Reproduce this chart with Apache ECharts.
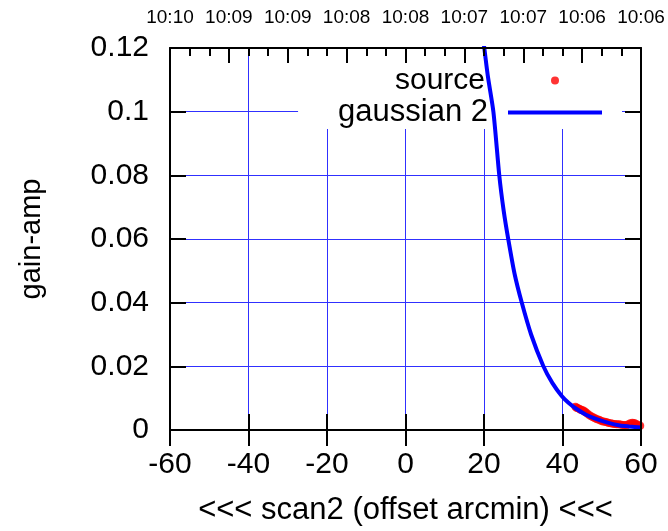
<!DOCTYPE html>
<html>
<head>
<meta charset="utf-8">
<script src="https://cdn.jsdelivr.net/npm/echarts@6/dist/echarts.min.js"></script>
<style>html,body{margin:0;padding:0;background:#fff}#c{width:668px;height:531px}</style>
</head>
<body>
<div id="c"></div>
<script>
// ---- data ----
const topTimeLabels = ['10:10','10:09','10:09','10:08','10:08','10:07','10:07','10:06','10:06'];
const sourceX = [43.3,43.6,43.9,44.3,44.6,44.9,45.3,45.6,45.9,46.3,46.8,47.3,47.8,48.3,48.8,49.3,49.8,50.3,50.8,51.3,51.8,52.3,52.8,53.3,53.8,54.3,54.8,55.3,55.8,56.3,56.8,57.3,57.8,58.3,58.8,59.3,59.8];
const sourceY = [0.0073,0.0070,0.0068,0.0067,0.0064,0.0063,0.0061,0.0058,0.0056,0.0052,0.0047,0.0043,0.0040,0.0037,0.0034,0.0032,0.0029,0.0027,0.0026,0.0024,0.0022,0.0021,0.0020,0.0019,0.0018,0.0018,0.0017,0.0016,0.0016,0.0015,0.0018,0.0021,0.0023,0.0022,0.0019,0.0016,0.0013];
const gaussX = [19.0,19.8,21.0,22.4,23.9,25.0,26.2,27.8,29.6,32.0,35.1,37.4,39.8,41.6,43.6,46.0,48.7,51.5,54.6,57.0,60.0];
const gaussY = [0.128,0.1225,0.111,0.0999,0.0799,0.069,0.0598,0.049,0.0401,0.030,0.0201,0.0148,0.0107,0.0085,0.0066,0.0048,0.0034,0.0023,0.0014,0.0011,0.0008];

const FONT = 'Liberation Sans';
const BIG = 29;
const black = '#000';
const gridBlue = '#3030ff';

const sourceData = sourceX.map((x, i) => [x, sourceY[i]]);
const gaussData = gaussX.map((x, i) => [x, gaussY[i]]);

const xRange = {min: -60, max: 60};
const yRange = {min: 0, max: 0.12, interval: 0.02};

const chart = echarts.init(document.getElementById('c'), null, {renderer: 'canvas'});
chart.setOption({
  animation: false,
  backgroundColor: '#fff',
  grid: {left: 170, right: 27, top: 48, bottom: 100, containLabel: false},
  legend: [
    {
      z: 1, right: 46, top: 47, orient: 'vertical', align: 'right', selectedMode: false,
      backgroundColor: '#fff', padding: [17, 63, 0, 97],
      itemWidth: 8, itemHeight: 8,
      data: [{name: 'source', icon: 'circle'}],
      textStyle: {fontFamily: FONT, fontSize: 30, color: black, lineHeight: 33, padding: [0, 61, 0, 0]}
    },
    {
      z: 1, right: 46, top: 96, orient: 'vertical', align: 'right', selectedMode: false,
      backgroundColor: '#fff', padding: [0, 20, 0, 40],
      itemWidth: 94, itemHeight: 4,
      data: [{name: 'gaussian 2', icon: 'rect'}],
      textStyle: {fontFamily: FONT, fontSize: 31, color: black, lineHeight: 33, padding: [0, 15, 0, 0]}
    }
  ],
  xAxis: [
    { // main bottom axis: labels, ticks, border
      type: 'value', position: 'bottom', ...xRange, interval: 20, z: 5,
      name: '<<< scan2 (offset arcmin) <<<', nameLocation: 'middle', nameGap: 65,
      nameTextStyle: {fontFamily: FONT, fontSize: 31, color: black},
      axisLine: {show: true, onZero: false, lineStyle: {color: black, width: 2}},
      axisTick: {show: true, inside: true, length: 16, lineStyle: {color: black, width: 2}},
      axisLabel: {show: true, margin: 20, fontFamily: FONT, fontSize: 30, color: black},
      splitLine: {show: false}
    },
    { // grid lines only
      type: 'value', position: 'bottom', ...xRange, interval: 20, z: 0,
      axisLine: {show: false}, axisTick: {show: false}, axisLabel: {show: false},
      splitLine: {show: true, lineStyle: {color: gridBlue, width: 1}}
    },
    { // top time axis
      type: 'value', position: 'top', ...xRange, interval: 15, z: 5,
      axisLine: {show: true, onZero: false, lineStyle: {color: black, width: 2}},
      axisTick: {show: true, inside: true, length: 15, lineStyle: {color: black, width: 2}},
      minorTick: {show: true, splitNumber: 3, length: 8, lineStyle: {color: black, width: 2}},
      axisLabel: {
        show: true, margin: 21, fontFamily: FONT, fontSize: 19, color: black,
        formatter: v => topTimeLabels[Math.round((v - xRange.min) / 15)] || ''
      },
      splitLine: {show: false}
    },
    { // mirrored major ticks of the bottom axis on top
      type: 'value', position: 'top', ...xRange, interval: 20, z: 5,
      axisLine: {show: false},
      axisTick: {show: true, inside: true, length: 16, lineStyle: {color: black, width: 2}},
      axisLabel: {show: false}, splitLine: {show: false}
    }
  ],
  yAxis: [
    {
      type: 'value', position: 'left', ...yRange, z: 5,
      name: 'gain-amp', nameLocation: 'middle', nameGap: 124,
      nameTextStyle: {fontFamily: FONT, fontSize: BIG, color: black},
      axisLine: {show: true, onZero: false, lineStyle: {color: black, width: 2}},
      axisTick: {show: true, inside: true, length: 16, lineStyle: {color: black, width: 2}},
      axisLabel: {show: true, margin: 21, fontFamily: FONT, fontSize: 30, color: black,
        formatter: v => String(+v.toFixed(2))},
      splitLine: {show: false}
    },
    {
      type: 'value', position: 'right', ...yRange, z: 5,
      axisLine: {show: true, onZero: false, lineStyle: {color: black, width: 2}},
      axisTick: {show: true, inside: true, length: 16, lineStyle: {color: black, width: 2}},
      axisLabel: {show: false}, splitLine: {show: false}
    },
    {
      type: 'value', position: 'left', ...yRange, z: 0,
      axisLine: {show: false}, axisTick: {show: false}, axisLabel: {show: false},
      splitLine: {show: true, lineStyle: {color: gridBlue, width: 1}}
    }
  ],
  series: [
    {
      name: 'source', type: 'scatter', xAxisIndex: 0, yAxisIndex: 0, z: 2,
      data: sourceData, symbol: 'circle', symbolSize: 8,
      itemStyle: {color: '#ff0000'}, clip: true
    },
    {
      name: 'gaussian 2', type: 'line', xAxisIndex: 0, yAxisIndex: 0, z: 3,
      data: gaussData, showSymbol: false, smooth: 0.25, clip: true,
      lineStyle: {color: '#0000ff', width: 4}, itemStyle: {color: '#0000ff'}
    }
  ]
});
</script>
</body>
</html>
